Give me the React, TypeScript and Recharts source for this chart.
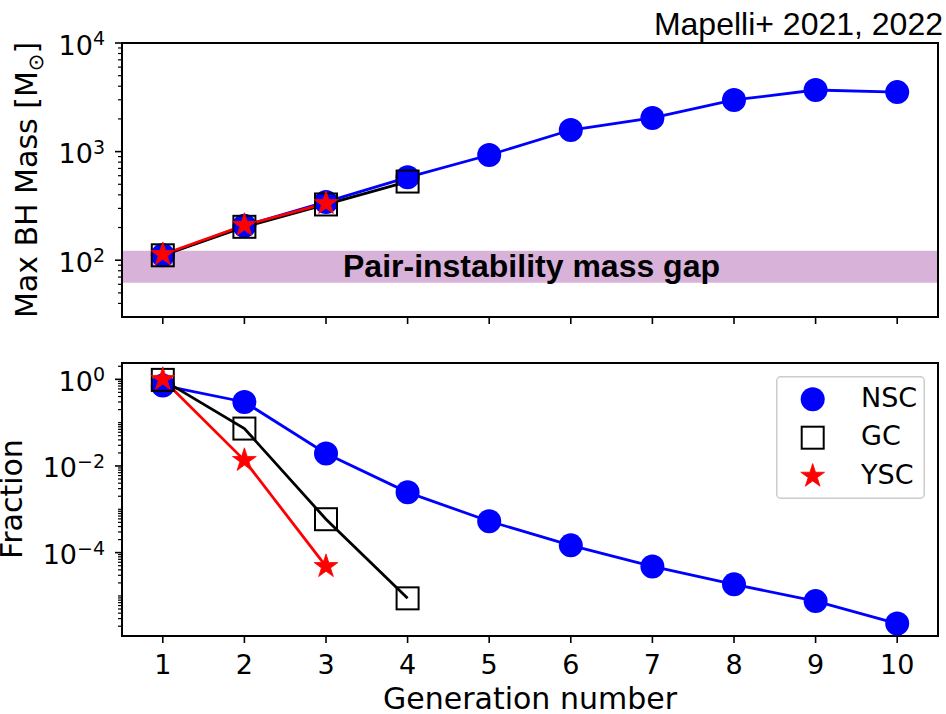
import React from 'react';
import { LineChart, Line, XAxis, YAxis, ReferenceArea, Legend } from 'recharts';

// ---------------- data ----------------
const generations = [1, 2, 3, 4, 5, 6, 7, 8, 9, 10];
const xTickLabels = ['1', '2', '3', '4', '5', '6', '7', '8', '9', '10'];
const seriesNames = ['NSC', 'GC', 'YSC'];

// Max BH mass [Msun]
const nscMaxMass = [111, 208, 344, 580, 930, 1580, 2040, 2990, 3690, 3530];
const gcMaxMass = [111, 203, 326, 530];
const yscMaxMass = [113, 210, 333];

// Fraction
const nscFraction = [0.72, 0.3, 0.0195, 0.00246, 0.00053, 0.000147, 0.000048, 0.0000185, 0.0000076, 0.0000023];
const gcFraction = [0.97, 0.073, 0.00059, 0.0000088];
const yscFraction = [1.0, 0.0135, 0.000048];

// pair-instability mass gap
const massGapLow = 62;
const massGapHigh = 122;

// axes
const massDomain = [30, 10000];
const massMajorTicks = [100, 1000, 10000];
const massTickExponents = ['2', '3', '4'];
const fractionDomain = [1.19e-6, 2.38];
const fractionMajorTicks = [1, 0.01, 0.0001];
const fractionTickExponents = ['0', '\u22122', '\u22124'];
const xDomain = [0.5, 10.5];

// minor log ticks (positions only)
function minorTicks(lo: number, hi: number, majors: number[]) {
  const out: number[] = [];
  for (let e = Math.floor(Math.log10(lo)); e <= Math.ceil(Math.log10(hi)); e++) {
    for (let m = 1; m <= 9; m++) {
      const v = m * Math.pow(10, e);
      if (v <= lo * 1.0001 || v >= hi) continue;
      if (majors.some((mj) => Math.abs(Math.log10(mj) - Math.log10(v)) < 1e-6)) continue;
      out.push(v);
    }
  }
  return out;
}

const massRows = generations.map((g, i) => ({
  gen: g,
  nsc: nscMaxMass[i],
  gc: gcMaxMass[i],
  ysc: yscMaxMass[i],
}));
const fractionRows = generations.map((g, i) => ({
  gen: g,
  nsc: nscFraction[i],
  gc: gcFraction[i],
  ysc: yscFraction[i],
}));

// ---------------- styling ----------------
const TICK_FONT = "'DejaVu Sans', sans-serif";
const ARIAL = "'Liberation Sans', Arial, sans-serif";
const BLUE = '#0000ff';
const RED = '#ff0000';
const BLACK = '#000000';
const LW = 2.8;

const valid = (p: any) => p && p.cx != null && p.cy != null && !isNaN(p.cx) && !isNaN(p.cy) && p.value != null;

function starPath(cx: number, cy: number, R: number) {
  const r = R * 0.382;
  let d = '';
  for (let k = 0; k < 10; k++) {
    const a = -Math.PI / 2 + (k * Math.PI) / 5;
    const rad = k % 2 === 0 ? R : r;
    d += (k === 0 ? 'M' : 'L') + (cx + rad * Math.cos(a)).toFixed(2) + ',' + (cy + rad * Math.sin(a)).toFixed(2);
  }
  return d + 'Z';
}

const CircleDot = (p: any) =>
  valid(p) ? <circle key={`c${p.index}`} cx={p.cx} cy={p.cy} r={12} fill={BLUE} /> : <g key={`c${p.index}`} />;
const SquareDot = (p: any) =>
  valid(p) ? (
    <rect key={`s${p.index}`} x={p.cx - 11} y={p.cy - 11} width={22} height={22} fill="none" stroke={BLACK} strokeWidth={2} />
  ) : (
    <g key={`s${p.index}`} />
  );
const StarDot = (p: any) =>
  valid(p) ? <path key={`t${p.index}`} d={starPath(p.cx, p.cy, 12.5)} fill={RED} stroke={RED} strokeWidth={0.8} /> : <g key={`t${p.index}`} />;

function YTick(props: any) {
  const { x, y, payload, majors, exps } = props;
  const v = payload.value;
  const idx = majors.findIndex((m: number) => Math.abs(Math.log10(m) - Math.log10(v)) < 1e-6);
  if (idx < 0) {
    return <line x1={x} y1={y} x2={x - 4} y2={y} stroke={BLACK} strokeWidth={1.2} />;
  }
  return (
    <g>
      <line x1={x} y1={y} x2={x - 7} y2={y} stroke={BLACK} strokeWidth={1.6} />
      <text x={x - 17} y={y + 11.5} textAnchor="end" fontSize={27} fontFamily={TICK_FONT} fill={BLACK}>
        10
        <tspan dy={-9.5} fontSize={19}>
          {exps[idx]}
        </tspan>
      </text>
    </g>
  );
}

function XTick(props: any) {
  const { x, y, payload, showLabel } = props;
  const i = generations.indexOf(payload.value);
  return (
    <g>
      <line x1={x} y1={y} x2={x} y2={y + 7} stroke={BLACK} strokeWidth={1.6} />
      {showLabel ? (
        <text x={x} y={y + 38} textAnchor="middle" fontSize={27} fontFamily={TICK_FONT} fill={BLACK}>
          {xTickLabels[i]}
        </text>
      ) : null}
    </g>
  );
}

function MassTitle() {
  return (
    <text
      x={37}
      y={180}
      transform="rotate(-90, 37, 180)"
      textAnchor="middle"
      fontSize={30}
      fontFamily={TICK_FONT}
      fill={BLACK}
    >
      Max BH Mass [M
      <tspan dy={6} fontSize={21}>
        {'\u2299'}
      </tspan>
      <tspan dy={-6}>]</tspan>
    </text>
  );
}

function FractionTitle() {
  return (
    <text
      x={22}
      y={169}
      transform="rotate(-90, 22, 169)"
      textAnchor="middle"
      fontSize={30}
      fontFamily={TICK_FONT}
      fill={BLACK}
    >
      Fraction
    </text>
  );
}

function GenTitle() {
  return (
    <text x={530} y={379} textAnchor="middle" fontSize={30} fontFamily={TICK_FONT} fill={BLACK}>
      Generation number
    </text>
  );
}

function GapLabel(props: any) {
  const vb = props.viewBox || { x: 122, y: 250, width: 816, height: 31 };
  return (
    <text
      x={vb.x + vb.width / 2 + 1.5}
      y={vb.y + vb.height / 2 + 10}
      textAnchor="middle"
      fontSize={32}
      fontWeight="bold"
      fontFamily={ARIAL}
      fill={BLACK}
    >
      Pair-instability mass gap
    </text>
  );
}

function LegendBox() {
  const rows = [
    { name: seriesNames[0], kind: 'circle' },
    { name: seriesNames[1], kind: 'square' },
    { name: seriesNames[2], kind: 'star' },
  ];
  return (
    <svg width={150} height={124} style={{ display: 'block' }}>
      <rect x={0.75} y={0.75} width={147.5} height={121.5} rx={4} ry={4} fill="#ffffff" fillOpacity={0.8} stroke="#cccccc" strokeWidth={1.5} />
      {rows.map((r, i) => {
        const cy = 23.3 + i * 38.4;
        const cx = 36.7;
        return (
          <g key={r.name}>
            {r.kind === 'circle' ? <circle cx={cx} cy={cy} r={12} fill={BLUE} /> : null}
            {r.kind === 'square' ? (
              <rect x={cx - 11} y={cy - 11} width={22} height={22} fill="none" stroke={BLACK} strokeWidth={2} />
            ) : null}
            {r.kind === 'star' ? <path d={starPath(cx, cy, 12.5)} fill={RED} stroke={RED} strokeWidth={0.8} /> : null}
            <text x={85} y={cy + 7.5} fontSize={27} fontFamily={TICK_FONT} fill={BLACK}>
              {r.name}
            </text>
          </g>
        );
      })}
    </svg>
  );
}

export default function App() {
  const massTicks = [...massMajorTicks, ...minorTicks(35, massDomain[1], massMajorTicks)];
  const fracTicks = [...fractionMajorTicks, ...minorTicks(fractionDomain[0], fractionDomain[1], fractionMajorTicks)];
  return (
    <div style={{ position: 'absolute', left: 0, top: 0, width: 946, height: 714, background: '#fff' }}>
      {/* Top panel */}
      <div style={{ position: 'absolute', left: 0, top: 0 }}>
        <LineChart width={946} height={330} data={massRows} margin={{ top: 43, right: 8, bottom: 0, left: 0 }}>
          <XAxis
            dataKey="gen"
            type="number"
            domain={xDomain}
            ticks={generations}
            allowDataOverflow
            interval={0}
            height={13}
            tickSize={0}
            tickMargin={0}
            axisLine={false}
            tickLine={false}
            tick={<XTick showLabel={false} />}
          />
          <YAxis
            type="number"
            scale="log"
            domain={massDomain}
            allowDataOverflow
            ticks={massTicks}
            interval={0}
            width={122}
            tickSize={0}
            tickMargin={0}
            axisLine={false}
            tickLine={false}
            tick={<YTick majors={massMajorTicks} exps={massTickExponents} />}
            label={<MassTitle />}
          />
          <ReferenceArea
            x1={xDomain[0]}
            x2={xDomain[1]}
            y1={massGapLow}
            y2={massGapHigh}
            fill="#800080"
            fillOpacity={0.3}
            stroke="none"
            ifOverflow="visible"
            label={<GapLabel />}
          />
          <Line dataKey="nsc" name={seriesNames[0]} stroke={BLUE} strokeWidth={LW} dot={CircleDot} activeDot={false} isAnimationActive={false} />
          <Line dataKey="gc" name={seriesNames[1]} stroke={BLACK} strokeWidth={LW} dot={SquareDot} activeDot={false} isAnimationActive={false} />
          <Line dataKey="ysc" name={seriesNames[2]} stroke={RED} strokeWidth={LW} dot={StarDot} activeDot={false} isAnimationActive={false} />
          <ReferenceArea
            x1={xDomain[0]}
            x2={xDomain[1]}
            y1={massDomain[0]}
            y2={massDomain[1]}
            fill="none"
            fillOpacity={0}
            stroke={BLACK}
            strokeWidth={2}
            ifOverflow="visible"
          />
        </LineChart>
      </div>

      {/* Bottom panel */}
      <div style={{ position: 'absolute', left: 0, top: 330 }}>
        <LineChart width={946} height={384} data={fractionRows} margin={{ top: 33, right: 8, bottom: 0, left: 0 }}>
          <XAxis
            dataKey="gen"
            type="number"
            domain={xDomain}
            ticks={generations}
            allowDataOverflow
            interval={0}
            height={78}
            tickSize={0}
            tickMargin={0}
            axisLine={false}
            tickLine={false}
            tick={<XTick showLabel={true} />}
            label={<GenTitle />}
          />
          <YAxis
            type="number"
            scale="log"
            domain={fractionDomain}
            allowDataOverflow
            ticks={fracTicks}
            interval={0}
            width={122}
            tickSize={0}
            tickMargin={0}
            axisLine={false}
            tickLine={false}
            tick={<YTick majors={fractionMajorTicks} exps={fractionTickExponents} />}
            label={<FractionTitle />}
          />
          <Line dataKey="nsc" name={seriesNames[0]} stroke={BLUE} strokeWidth={LW} dot={CircleDot} activeDot={false} isAnimationActive={false} />
          <Line dataKey="gc" name={seriesNames[1]} stroke={BLACK} strokeWidth={LW} dot={SquareDot} activeDot={false} isAnimationActive={false} />
          <Line dataKey="ysc" name={seriesNames[2]} stroke={RED} strokeWidth={LW} dot={StarDot} activeDot={false} isAnimationActive={false} />
          <ReferenceArea
            x1={xDomain[0]}
            x2={xDomain[1]}
            y1={fractionDomain[0]}
            y2={fractionDomain[1]}
            fill="none"
            fillOpacity={0}
            stroke={BLACK}
            strokeWidth={2}
            ifOverflow="visible"
          />
          <Legend
            layout="vertical"
            align="center"
            verticalAlign="middle"
            wrapperStyle={{ left: 776, top: 46, width: 150, height: 124 }}
            content={() => <LegendBox />}
          />
        </LineChart>
      </div>

      {/* Title */}
      <svg width={946} height={60} style={{ position: 'absolute', left: 0, top: 0, pointerEvents: 'none' }}>
        <text x={943} y={35} textAnchor="end" fontSize={32} fontFamily={ARIAL} fill={BLACK}>
          Mapelli+ 2021, 2022
        </text>
      </svg>
    </div>
  );
}
